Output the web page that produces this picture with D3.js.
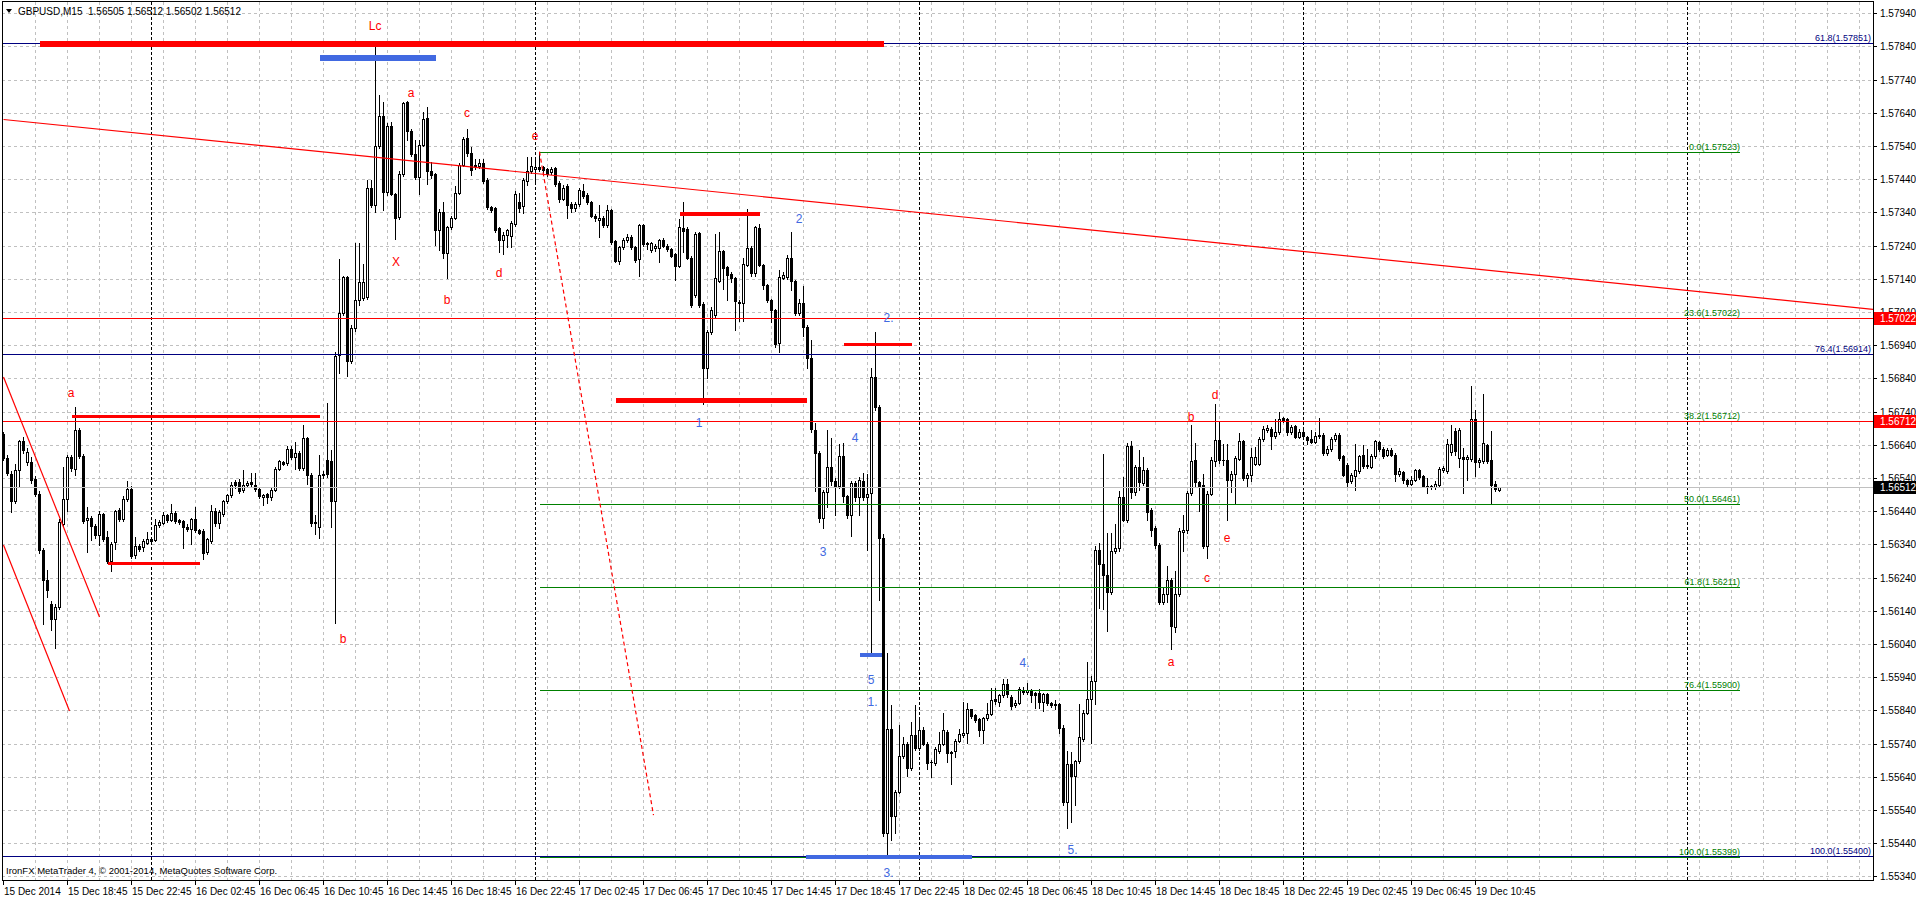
<!DOCTYPE html>
<html>
<head>
<meta charset="utf-8">
<script src="https://cdn.jsdelivr.net/npm/d3@7"></script>
<style>
  body { margin: 0; background: #fff; overflow: hidden; }
  svg { display: block; }
  text { font-family: "Liberation Sans", Arial, sans-serif; }
</style>
</head>
<body>
<svg id="chart"></svg>
<script>
// GBPUSD M15, 15 Dec 2014 14:45 .. 19 Dec 12:15 (values in points above 1.50000)
const opens = [
6674,6600,6553,6471,6565,6651,6588,6588,6538,6493, 6322,6234,6161,6116,6151,6402,6478,6604,6568,6684,
6605,6412,6420,6395,6368,6431,6362,6290,6347,6443, 6415,6478,6508,6307,6334,6332,6345,6357,6354,6397,
6404,6427,6414,6435,6412,6409,6392,6387,6417,6382, 6379,6317,6350,6441,6405,6432,6471,6488,6528,6528,
6503,6520,6528,6518,6506,6483,6491,6483,6505,6568, 6587,6585,6628,6603,6616,6570,6661,6548,6408,6392,
6550,6593,6590,6471,6912,7037,7147,6892,6992,7077, 7082,7084,7414,7362,7540,7630,7402,7600,7397,7327,
7457,7674,7584,7517,7447,7544,7624,7464,7457,7287, 7342,7217,7297,7324,7399,7484,7564,7520,7484,7479,
7489,7439,7357,7352,7292,7257,7272,7270,7305,7370, 7359,7434,7464,7472,7477,7477,7472,7462,7475,7430,
7382,7419,7365,7352,7365,7405,7394,7372,7330,7317, 7324,7302,7347,7254,7195,7237,7257,7267,7237,7199,
7302,7249,7227,7232,7234,7257,7240,7229,7214,7180, 7292,7290,7204,7090,7277,7064,6870,6980,7032,7134,
7224,7177,7154,7142,7069,7067,7182,7232,7157,7294, 7182,7120,7075,7047,6947,7144,7147,7202,7132,7038,
7066,6994,6900,6686,6616,6418,6498,6572,6532,6516, 6606,6485,6428,6526,6482,6532,6482,6494,6843,6753,
6360,5470,5784,5523,5595,5702,5740,5667,5767,5726, 5782,5740,5685,5680,5718,5740,5776,5713,5716,5748,
5766,5773,5843,5825,5813,5781,5816,5830,5873,5866, 5885,5918,5880,5856,5863,5901,5896,5901,5891,5891,
5866,5888,5862,5858,5858,5788,5565,5678,5643,5686, 5755,5833,5873,5928,6323,6280,6248,6198,6321,6328,
6483,6412,6636,6497,6573,6525,6563,6444,6389,6339, 6167,6192,6233,6092,6190,6376,6382,6495,6595,6527,
6520,6336,6493,6590,6653,6595,6593,6533,6553,6598, 6650,6540,6550,6583,6583,6658,6686,6688,6668,6678,
6721,6718,6678,6696,6664,6678,6664,6656,6648,6671, 6671,6615,6626,6656,6671,6605,6580,6530,6545,6560,
6610,6580,6573,6605,6648,6628,6610,6623,6610,6552, 6558,6533,6523,6535,6563,6547,6517,6515,6513,6520,
6563,6560,6617,6681,6600,6603,6597,6597,6718,6587, 6590,6638,6595,6523,6505
];
const highs = [
6680,6610,6560,6583,6654,6664,6630,6603,6545,6500, 6330,6262,6170,6160,6415,6573,6610,6610,6754,6690,
6612,6453,6425,6400,6440,6435,6380,6348,6445,6451, 6485,6531,6515,6362,6340,6355,6377,6362,6417,6412,
6437,6432,6461,6440,6415,6412,6400,6420,6453,6385, 6385,6360,6458,6450,6445,6475,6492,6528,6535,6538,
6563,6531,6555,6555,6510,6492,6495,6510,6573,6595, 6590,6635,6635,6649,6622,6701,6665,6555,6427,6608,
6560,6766,6623,6920,7200,7150,7150,7000,7247,7247, 7184,7437,7437,7851,7694,7672,7610,7612,7400,7465,
7674,7677,7590,7557,7559,7642,7659,7492,7460,7350, 7370,7300,7330,7420,7490,7567,7590,7537,7500,7502,
7502,7445,7360,7355,7297,7282,7290,7315,7405,7400, 7445,7507,7507,7500,7523,7480,7475,7478,7478,7435,
7424,7425,7370,7370,7415,7427,7398,7375,7335,7362, 7330,7362,7350,7258,7240,7262,7275,7272,7240,7305,
7305,7252,7252,7245,7260,7262,7245,7232,7218,7320, 7372,7295,7210,7280,7282,7070,6985,7055,7274,7282,
7228,7180,7160,7145,7075,7204,7350,7240,7300,7305, 7185,7125,7080,7050,7167,7160,7212,7282,7135,7080,
7117,7000,6956,6705,6620,6505,6684,6659,6540,6641, 6646,6490,6530,6530,6542,6556,6553,6870,6979,6760,
6370,6014,5857,5600,5797,5760,5745,5806,5856,5818, 5790,5745,5690,5730,5776,5833,5780,5716,5755,5783,
5865,5863,5845,5828,5818,5820,5863,5906,5906,5890, 5933,5935,5885,5870,5910,5910,5923,5905,5895,5903,
5893,5892,5866,5870,5862,5795,5716,5713,5690,5858, 5840,5986,5943,6335,6345,6613,6374,6374,6400,6500,
6543,6645,6651,6580,6625,6603,6570,6450,6395,6345, 6213,6275,6240,6261,6390,6429,6500,6701,6644,6530,
6552,6500,6603,6764,6712,6641,6641,6560,6605,6676, 6655,6555,6631,6633,6662,6696,6700,6693,6718,6739,
6725,6722,6700,6700,6688,6690,6668,6685,6680,6721, 6675,6635,6665,6676,6675,6610,6585,6555,6641,6610,
6640,6626,6612,6655,6652,6632,6630,6630,6615,6570, 6562,6538,6545,6568,6568,6550,6540,6520,6530,6572,
6575,6656,6701,6690,6690,6630,6610,6817,6746,6600, 6792,6642,6681,6530,6512
];
const lows = [
6595,6550,6438,6465,6513,6615,6580,6525,6485,6315, 6101,6182,6081,6028,6145,6395,6440,6560,6548,6600,
6405,6317,6352,6360,6337,6350,6285,6260,6327,6410, 6410,6470,6298,6300,6320,6320,6340,6345,6350,6392,
6400,6408,6410,6405,6400,6330,6380,6342,6378,6370, 6297,6310,6345,6395,6390,6425,6465,6483,6510,6495,
6498,6515,6515,6500,6480,6460,6465,6475,6500,6563, 6578,6580,6598,6568,6565,6565,6523,6395,6372,6360,
6540,6543,6393,6103,6857,7030,6847,6885,6982,7062, 7075,7080,7355,7342,7535,7347,7392,7392,7260,7320,
7450,7557,7510,7440,7397,7540,7427,7445,7242,7227, 7202,7142,7290,7320,7395,7480,7510,7452,7470,7475,
7429,7350,7340,7280,7220,7215,7237,7237,7300,7340, 7339,7422,7460,7430,7465,7460,7450,7455,7420,7370,
7378,7324,7340,7345,7360,7385,7365,7325,7315,7267, 7295,7297,7245,7190,7185,7230,7250,7230,7190,7150,
7240,7230,7220,7225,7190,7235,7225,7205,7137,7175, 7222,7200,7055,7085,7055,6762,6840,6975,7025,7130,
7110,7077,7130,6987,7012,7012,7178,7150,7150,7178, 7110,7070,7010,6935,6920,7140,7140,7107,7030,7030,
6968,6870,6680,6501,6408,6390,6453,6520,6428,6510, 6468,6420,6366,6470,6428,6475,6322,6005,6745,6173,
5460,5399,5450,5470,5590,5697,5643,5660,5720,5720, 5735,5663,5640,5675,5712,5735,5683,5618,5698,5745,
5760,5743,5818,5805,5763,5743,5810,5825,5860,5853, 5880,5880,5843,5850,5858,5890,5890,5866,5848,5848,
5838,5855,5850,5845,5773,5555,5485,5505,5555,5680, 5748,5828,5743,5860,6148,6144,6080,6190,6315,6320,
6410,6407,6480,6490,6505,6520,6414,6366,6330,6160, 6160,6167,6026,6077,6185,6321,6375,6490,6513,6442,
6330,6298,6488,6577,6585,6580,6412,6498,6462,6593, 6535,6515,6530,6578,6578,6650,6680,6628,6660,6673,
6710,6670,6672,6660,6660,6662,6641,6645,6645,6660, 6610,6610,6620,6650,6595,6545,6517,6525,6503,6555,
6570,6570,6570,6600,6620,6600,6605,6605,6530,6545, 6525,6517,6518,6530,6538,6512,6495,6508,6508,6515,
6558,6555,6610,6608,6573,6495,6535,6590,6545,6573, 6585,6585,6466,6500,6502
];
const closes = [
6600,6555,6471,6565,6651,6624,6619,6533,6493,6322, 6234,6204,6116,6151,6408,6478,6604,6571,6684,6605,
6411,6420,6395,6368,6433,6357,6290,6342,6440,6415, 6478,6508,6304,6334,6327,6349,6355,6350,6397,6407,
6427,6414,6434,6410,6406,6392,6387,6416,6382,6375, 6314,6355,6441,6405,6438,6471,6488,6518,6518,6500,
6520,6526,6521,6508,6485,6488,6483,6505,6568,6590, 6583,6628,6603,6616,6570,6661,6548,6403,6403,6550,
6553,6553,6471,6907,7037,7147,6892,6992,7077,7130, 7130,7414,7362,7540,7630,7402,7600,7397,7324,7457,
7670,7584,7517,7447,7544,7622,7464,7452,7287,7342, 7217,7297,7324,7399,7484,7562,7520,7467,7479,7489,
7434,7357,7347,7287,7257,7272,7287,7309,7397,7354, 7439,7464,7480,7477,7472,7467,7457,7472,7427,7380,
7414,7362,7352,7365,7409,7389,7370,7330,7322,7322, 7302,7347,7252,7195,7237,7257,7267,7237,7197,7302,
7244,7245,7247,7239,7257,7239,7229,7210,7180,7295, 7284,7204,7062,7274,7062,6870,6980,7047,7142,7224,
7172,7152,7142,7072,7067,7184,7232,7157,7295,7182, 7120,7075,7047,6944,7147,7152,7202,7134,7038,7066,
6994,6900,6689,6616,6418,6498,6572,6532,6516,6606, 6485,6428,6524,6482,6534,6482,6492,6843,6753,6360,
5470,5784,5523,5595,5702,5740,5667,5767,5728,5780, 5740,5680,5683,5725,5740,5780,5710,5710,5748,5770,
5773,5843,5823,5810,5781,5816,5830,5870,5868,5885, 5918,5888,5853,5863,5903,5896,5901,5886,5886,5866,
5888,5862,5856,5855,5788,5565,5678,5643,5686,5760, 5833,5873,5928,6323,6280,6248,6198,6321,6328,6483,
6414,6636,6497,6573,6527,6563,6439,6382,6337,6167, 6192,6233,6094,6190,6379,6382,6495,6592,6527,6517,
6336,6493,6595,6653,6593,6593,6533,6553,6600,6650, 6540,6550,6603,6603,6658,6688,6691,6668,6678,6718,
6716,6678,6694,6664,6678,6668,6654,6648,6668,6666, 6615,6627,6658,6671,6600,6550,6527,6550,6565,6607,
6577,6577,6607,6651,6626,6607,6625,6610,6552,6562, 6533,6523,6535,6563,6543,6517,6513,6513,6523,6567,
6570,6643,6643,6621,6686,6597,6603,6718,6587,6595, 6644,6590,6520,6507,6512
];

// bottom axis: a label every 16 bars
const timeLabels = ["15 Dec 2014","15 Dec 18:45","15 Dec 22:45","16 Dec 02:45","16 Dec 06:45","16 Dec 10:45",
  "16 Dec 14:45","16 Dec 18:45","16 Dec 22:45","17 Dec 02:45","17 Dec 06:45","17 Dec 10:45",
  "17 Dec 14:45","17 Dec 18:45","17 Dec 22:45","18 Dec 02:45","18 Dec 06:45","18 Dec 10:45",
  "18 Dec 14:45","18 Dec 18:45","18 Dec 22:45","19 Dec 02:45","19 Dec 06:45","19 Dec 10:45"];
const daySeparators = [37, 133, 229, 325, 421];

// fibonacci retracement (green, bars 134..434) and expansion (navy, full width)
const fiboGreenLevels = ["0.0","23.6","38.2","50.0","61.8","76.4","100.0"];
const fiboGreenPrices = [7523, 7022, 6712, 6461, 6211, 5900, 5399];
const fiboNavyLevels = ["61.8","76.4","100.0"];
const fiboNavyPrices = [7851, 6914, 5400];
const redHLines = [7022, 6712];
const bidPrice = 6512;

// thick segments: [bar1, bar2, price, width]
const redSegments = [[9, 220, 7851, 6], [17, 79, 6726, 3], [26, 49, 6284, 3], [169, 189, 7337, 4],
  [153, 200.8, 6775, 5], [210, 227, 6945, 3.5]];
const blueSegments = [[79, 108, 7808, 6], [214, 219.7, 6011, 4], [200.5, 242, 5402, 4]];

// trend lines: [bar1, price1, bar2, price2, dashed]
const trendLines = [[0, 7620, 467.5, 7048, false], [0, 6844, 24, 6121, false],
  [0, 6338, 16.5, 5838, false], [134, 7523, 162.5, 5524, true]];

// wave labels: [text, bar, price]
const redLabels = [["Lc",92.9,7902],["a",101.9,7700],["c",115.9,7639],["X",98.1,7190],["b",110.9,7076],
  ["d",123.9,7157],["e",132.9,7570],["a",16.9,6796],["b",84.9,6054],["d",302.9,6790],["b",296.9,6724],
  ["e",305.9,6359],["c",300.9,6238],["a",291.9,5985]];
const blueLabels = [["2",198.9,7320],["1",173.9,6705],["2.",220.9,7022],["4",212.9,6660],["3",204.9,6316],
  ["5",216.9,5931],["1.",216.9,5864],["3.",220.9,5349],["4.",254.9,5982],["5.",266.9,5418]];

const W = 1916, H = 898;
const plotL = 2, plotR = 1873, plotT = 2, plotB = 880;
const pr = v => 1.5 + v / 1e5;

const x = d3.scaleLinear().domain([0, 1]).range([3.5, 7.5]);       // 4 px per bar
const y = d3.scaleLinear().domain([1.5534, 1.5794]).range([876.3, 13.3]);
const col = i => Math.floor(x(i));
const row = v => Math.round(y(pr(v)));

const svg = d3.select("#chart").attr("width", W).attr("height", H);
svg.append("rect").attr("width", W).attr("height", H).attr("fill", "#fff");
svg.append("defs").append("clipPath").attr("id", "plot")
  .append("rect").attr("x", plotL).attr("y", plotT).attr("width", plotR - plotL).attr("height", plotB - plotT);

const g = svg.append("g").attr("clip-path", "url(#plot)").attr("shape-rendering", "crispEdges");

// grid
const priceTicks = d3.range(0, 27).map(k => 5340 + k * 100);
g.selectAll(".hgrid").data(priceTicks).enter().append("line")
  .attr("x1", plotL).attr("x2", plotR)
  .attr("y1", d => row(d) + 0.5).attr("y2", d => row(d) + 0.5)
  .attr("stroke", "#c0c0c0").attr("stroke-dasharray", "3,3");
const vgrid = d3.range(1, 59).map(k => k * 8);
g.selectAll(".vgrid").data(vgrid).enter().append("line")
  .attr("x1", d => col(d) + 0.5).attr("x2", d => col(d) + 0.5)
  .attr("y1", plotT).attr("y2", plotB)
  .attr("stroke", "#c0c0c0").attr("stroke-dasharray", "3,3");

// day separators
g.selectAll(".sep").data(daySeparators).enter().append("line")
  .attr("x1", d => col(d) + 0.5).attr("x2", d => col(d) + 0.5)
  .attr("y1", plotT).attr("y2", plotB)
  .attr("stroke", "#000").attr("stroke-dasharray", "3,2");

// candles
const candles = g.append("g");
opens.forEach((o, i) => {
  const c = closes[i], cx = col(i);
  candles.append("line").attr("x1", cx + 0.5).attr("x2", cx + 0.5)
    .attr("y1", row(highs[i])).attr("y2", row(lows[i]) + 1).attr("stroke", "#000");
  const top = row(Math.max(o, c)), bot = row(Math.min(o, c));
  if (c >= o) {
    candles.append("rect").attr("x", cx - 0.5).attr("y", top + 0.5)
      .attr("width", 2).attr("height", Math.max(bot - top, 0.01))
      .attr("fill", "#fff").attr("stroke", "#000");
  } else {
    candles.append("rect").attr("x", cx - 1).attr("y", top)
      .attr("width", 3).attr("height", bot - top + 1).attr("fill", "#000");
  }
});

// horizontal levels
g.append("line").attr("x1", plotL).attr("x2", plotR).attr("y1", row(bidPrice) + 0.5).attr("y2", row(bidPrice) + 0.5)
  .attr("stroke", "#c0c0c0");
g.selectAll(".fg").data(fiboGreenPrices).enter().append("line")
  .attr("x1", x(134)).attr("x2", 1740)
  .attr("y1", d => row(d) + 0.5).attr("y2", d => row(d) + 0.5)
  .attr("stroke", "#008000");
g.selectAll(".fn").data(fiboNavyPrices).enter().append("line")
  .attr("x1", plotL).attr("x2", plotR)
  .attr("y1", d => row(d) + 0.5).attr("y2", d => row(d) + 0.5)
  .attr("stroke", "#000080");
g.selectAll(".rh").data(redHLines).enter().append("line")
  .attr("x1", plotL).attr("x2", plotR)
  .attr("y1", d => row(d) + 0.5).attr("y2", d => row(d) + 0.5)
  .attr("stroke", "#ff0000");

// trend lines
const lines = svg.append("g").attr("clip-path", "url(#plot)");
lines.selectAll(".tl").data(trendLines).enter().append("line")
  .attr("x1", d => x(d[0])).attr("y1", d => y(pr(d[1])))
  .attr("x2", d => x(d[2])).attr("y2", d => y(pr(d[3])))
  .attr("stroke", "#ff0000").attr("stroke-width", 1.2)
  .attr("stroke-dasharray", d => d[4] ? "4,3" : null);

// thick segments
g.selectAll(".rs").data(redSegments).enter().append("line")
  .attr("x1", d => x(d[0])).attr("x2", d => x(d[1]))
  .attr("y1", d => row(d[2]) + 0.5).attr("y2", d => row(d[2]) + 0.5)
  .attr("stroke", "#ff0000").attr("stroke-width", d => d[3]);
g.selectAll(".bs").data(blueSegments).enter().append("line")
  .attr("x1", d => x(d[0])).attr("x2", d => x(d[1]))
  .attr("y1", d => row(d[2]) + 0.5).attr("y2", d => row(d[2]) + 0.5)
  .attr("stroke", "#4169e1").attr("stroke-width", d => d[3]);

// fibo level texts
const lab = svg.append("g");
lab.selectAll(".fgt").data(fiboGreenPrices).enter().append("text")
  .attr("x", 1740).attr("y", d => row(d) - 2).attr("text-anchor", "end")
  .attr("font-size", 9).attr("fill", "#008000")
  .text((d, i) => fiboGreenLevels[i] + "(" + pr(d).toFixed(5) + ")");
lab.selectAll(".fnt").data(fiboNavyPrices).enter().append("text")
  .attr("x", 1871).attr("y", d => row(d) - 2).attr("text-anchor", "end")
  .attr("font-size", 9).attr("fill", "#000080")
  .text((d, i) => fiboNavyLevels[i] + "(" + pr(d).toFixed(5) + ")");

// wave labels
lab.selectAll(".rl").data(redLabels).enter().append("text")
  .attr("x", d => x(d[1])).attr("y", d => y(pr(d[2])))
  .attr("text-anchor", "middle").attr("dominant-baseline", "central")
  .attr("font-size", 12).attr("fill", "#ff0000").text(d => d[0]);
lab.selectAll(".bl").data(blueLabels).enter().append("text")
  .attr("x", d => d[0].length > 1 ? x(d[1]) - 3.5 : x(d[1])).attr("y", d => y(pr(d[2])))
  .attr("text-anchor", d => d[0].length > 1 ? "start" : "middle").attr("dominant-baseline", "central")
  .attr("font-size", 12).attr("fill", "#4169e1").text(d => d[0]);

// frame
svg.append("rect").attr("x", plotL + 0.5).attr("y", plotT - 0.5).attr("width", plotR - plotL).attr("height", plotB - plotT + 1)
  .attr("fill", "none").attr("stroke", "#000").attr("shape-rendering", "crispEdges");

// right price axis
const axisG = svg.append("g").attr("shape-rendering", "crispEdges");
axisG.selectAll(".pt").data(priceTicks).enter().append("line")
  .attr("x1", plotR + 0.5).attr("x2", plotR + 4).attr("y1", d => row(d) + 0.5).attr("y2", d => row(d) + 0.5)
  .attr("stroke", "#000");
axisG.selectAll(".pl").data(priceTicks).enter().append("text")
  .attr("x", 1880).attr("y", d => row(d) + 0.5).attr("dominant-baseline", "central")
  .attr("font-size", 10).attr("fill", "#000").text(d => pr(d).toFixed(5));

// price boxes
const boxes = [[redHLines[0], "#ff0000"], [redHLines[1], "#ff0000"], [bidPrice, "#000"]];
boxes.forEach(([v, c]) => {
  axisG.append("rect").attr("x", plotR + 1).attr("y", row(v) - 6).attr("width", W - plotR - 1).attr("height", 13).attr("fill", c);
  axisG.append("text").attr("x", 1880).attr("y", row(v) + 0.5).attr("dominant-baseline", "central")
    .attr("font-size", 10).attr("fill", "#fff").text(pr(v).toFixed(5));
});

// bottom time axis
timeLabels.forEach((t, k) => {
  const bx = col(k * 16);
  axisG.append("line").attr("x1", bx + 0.5).attr("x2", bx + 0.5).attr("y1", plotB).attr("y2", plotB + 5).attr("stroke", "#000");
  axisG.append("text").attr("x", bx + 1).attr("y", 891).attr("dominant-baseline", "central")
    .attr("font-size", 10).attr("fill", "#000").text(t);
});

// title and copyright
svg.append("path").attr("d", "M6,9 L12,9 L9,13 Z").attr("fill", "#000");
svg.append("text").attr("x", 18).attr("y", 11).attr("dominant-baseline", "central").attr("font-size", 10)
  .attr("fill", "#000").text("GBPUSD,M15\u00a0\u00a01.56505 1.56512 1.56502 1.56512");
svg.append("text").attr("x", 6).attr("y", 870).attr("dominant-baseline", "central").attr("font-size", 9.5)
  .attr("fill", "#000").text("IronFX MetaTrader 4, \u00a9 2001-2014, MetaQuotes Software Corp.");
</script>
</body>
</html>
